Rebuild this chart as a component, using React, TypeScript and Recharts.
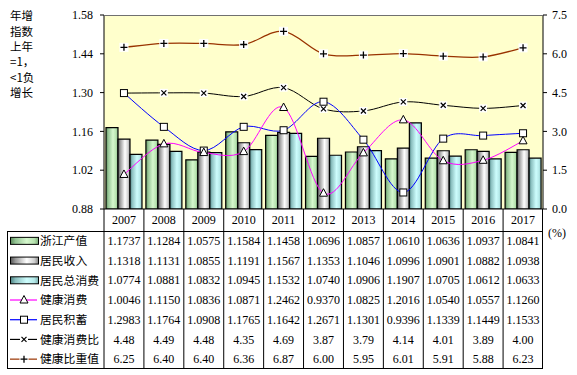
import { ComposedChart, Bar, Line, XAxis, YAxis, CartesianGrid } from "recharts";

const years = ["2007", "2008", "2009", "2010", "2011", "2012", "2013", "2014", "2015", "2016", "2017"];
const zjOutput = [1.1737, 1.1284, 1.0575, 1.1584, 1.1458, 1.0696, 1.0857, 1.061, 1.0636, 1.0937, 1.0841];
const income = [1.1318, 1.1131, 1.0855, 1.1191, 1.1567, 1.1353, 1.1046, 1.0996, 1.0901, 1.0882, 1.0938];
const totalConsume = [1.0774, 1.0881, 1.0832, 1.0945, 1.1532, 1.074, 1.0906, 1.1907, 1.0705, 1.0612, 1.0633];
const healthConsume = [1.0046, 1.115, 1.0836, 1.0871, 1.2462, 0.937, 1.0825, 1.2016, 1.054, 1.0557, 1.126];
const savings = [1.2983, 1.1764, 1.0908, 1.1765, 1.1642, 1.2671, 1.1301, 0.9396, 1.1339, 1.1449, 1.1533];
const healthRatio = [4.48, 4.49, 4.48, 4.35, 4.69, 3.87, 3.79, 4.14, 4.01, 3.89, 4.0];
const healthWeight = [6.25, 6.4, 6.4, 6.36, 6.87, 6.0, 5.95, 6.01, 5.91, 5.88, 6.23];

const leftTicks = [0.88, 1.02, 1.16, 1.3, 1.44, 1.58];
const rightTicks = [0, 1.5, 3, 4.5, 6, 7.5];
const titleLines = ["年增", "指数", "上年", "=1，", "<1负", "增长"];

const data = years.map((year, i) => ({
  year,
  zj: zjOutput[i],
  inc: income[i],
  cons: totalConsume[i],
  hc: healthConsume[i],
  sav: savings[i],
  ratio: healthRatio[i],
  weight: healthWeight[i],
}));

type RowKind = "green" | "grey" | "cyan" | "tri" | "sq" | "x" | "plus";
const rows: { name: string; values: number[]; digits: number; kind: RowKind; color: string }[] = [
  { name: "浙江产值", values: zjOutput, digits: 4, kind: "green", color: "#000" },
  { name: "居民收入", values: income, digits: 4, kind: "grey", color: "#000" },
  { name: "居民总消费", values: totalConsume, digits: 4, kind: "cyan", color: "#000" },
  { name: "健康消费", values: healthConsume, digits: 4, kind: "tri", color: "#ff00ff" },
  { name: "居民积蓄", values: savings, digits: 4, kind: "sq", color: "#0000ff" },
  { name: "健康消费比", values: healthRatio, digits: 2, kind: "x", color: "#000" },
  { name: "健康比重值", values: healthWeight, digits: 2, kind: "plus", color: "#993300" },
];

const W = 577;
const H = 375;
const PLOT_L = 104;
const PLOT_R = 543;
const PLOT_T = 15;
const PLOT_B = 209;
const TABLE_T = 231;
const TABLE_B = 369;
const TABLE_L = 7;
const COL_W = (PLOT_R - PLOT_L) / years.length;
const ROW_H = (TABLE_B - TABLE_T) / rows.length;

const SERIF = "'Liberation Serif', 'Times New Roman', serif";
const CJK = "'Noto Sans CJK SC', sans-serif";

// excel-like smoothing (catmull-rom as cubic bezier)
const smooth = (context: any) => {
  let pts: [number, number][] = [];
  return {
    areaStart() {},
    areaEnd() {},
    lineStart() {
      pts = [];
    },
    point(x: number, y: number) {
      pts.push([+x, +y]);
    },
    lineEnd() {
      const n = pts.length;
      if (!n) return;
      context.moveTo(pts[0][0], pts[0][1]);
      for (let i = 0; i < n - 1; i++) {
        const p0 = pts[i > 0 ? i - 1 : i];
        const p1 = pts[i];
        const p2 = pts[i + 1];
        const p3 = pts[i + 2 < n ? i + 2 : i + 1];
        context.bezierCurveTo(
          p1[0] + (p2[0] - p0[0]) / 6,
          p1[1] + (p2[1] - p0[1]) / 6,
          p2[0] - (p3[0] - p1[0]) / 6,
          p2[1] - (p3[1] - p1[1]) / 6,
          p2[0],
          p2[1]
        );
      }
    },
  };
};

const Marker = ({ kind, cx, cy }: { kind: RowKind; cx: number; cy: number }) => {
  if (kind === "tri")
    return (
      <polygon
        points={`${cx},${cy - 4.5} ${cx - 4},${cy + 3} ${cx + 4},${cy + 3}`}
        fill="#fff"
        stroke="#000"
        strokeWidth={1}
      />
    );
  if (kind === "sq")
    return <rect x={cx - 3.5} y={cy - 3.5} width={7} height={7} fill="#fff" stroke="#000" strokeWidth={1} />;
  if (kind === "x")
    return (
      <g>
        <rect x={cx - 4} y={cy - 4} width={8} height={8} fill="#fff" />
        <path d={`M${cx - 2.5},${cy - 2.5}L${cx + 2.5},${cy + 2.5}M${cx + 2.5},${cy - 2.5}L${cx - 2.5},${cy + 2.5}`} stroke="#000" strokeWidth={1.2} />
      </g>
    );
  return (
    <g>
      <rect x={cx - 4.5} y={cy - 4.5} width={9} height={9} fill="#fff" />
      <path d={`M${cx - 3.5},${cy}L${cx + 3.5},${cy}M${cx},${cy - 3.5}L${cx},${cy + 3.5}`} stroke="#000" strokeWidth={1.3} />
    </g>
  );
};

const dotFor = (kind: RowKind) => (p: any) =>
  <Marker key={`${kind}-${p.index}`} kind={kind} cx={p.cx} cy={p.cy} />;

const Gradients = ({ prefix }: { prefix: string }) => (
  <defs>
    <linearGradient id={`${prefix}green`} x1="0" y1="0" x2="1" y2="0">
      <stop offset="0" stopColor="#5a8a5a" />
      <stop offset="0.18" stopColor="#94c494" />
      <stop offset="0.58" stopColor="#d6f8ce" />
      <stop offset="0.85" stopColor="#b6e2ae" />
      <stop offset="1" stopColor="#7aaa7a" />
    </linearGradient>
    <linearGradient id={`${prefix}grey`} x1="0" y1="0" x2="1" y2="0">
      <stop offset="0" stopColor="#555" />
      <stop offset="0.18" stopColor="#9a9a9a" />
      <stop offset="0.58" stopColor="#fff" />
      <stop offset="0.85" stopColor="#cfcfcf" />
      <stop offset="1" stopColor="#858585" />
    </linearGradient>
    <linearGradient id={`${prefix}cyan`} x1="0" y1="0" x2="1" y2="0">
      <stop offset="0" stopColor="#4c8282" />
      <stop offset="0.18" stopColor="#8cc0c0" />
      <stop offset="0.58" stopColor="#cdfdfd" />
      <stop offset="0.85" stopColor="#b4e8e8" />
      <stop offset="1" stopColor="#7aaeae" />
    </linearGradient>
  </defs>
);

const TableOverlay = () => (
  <svg width={W} height={H} style={{ position: "absolute", left: 0, top: 0, pointerEvents: "none" }}>
    <Gradients prefix="lg-" />
    {/* plot frame top */}
    <line x1={PLOT_L} x2={PLOT_R} y1={PLOT_T + 0.5} y2={PLOT_T + 0.5} stroke="#707070" />
    {/* table grid */}
    {years.map((_, i) => (
      <line key={i} x1={PLOT_L + i * COL_W} x2={PLOT_L + i * COL_W} y1={PLOT_B} y2={TABLE_B} stroke="#000" />
    ))}
    <line x1={PLOT_R - 0.5} x2={PLOT_R - 0.5} y1={PLOT_B} y2={TABLE_B} stroke="#000" />
    <line x1={TABLE_L} x2={PLOT_R} y1={TABLE_T + 0.5} y2={TABLE_T + 0.5} stroke="#000" />
    <line x1={TABLE_L} x2={PLOT_R} y1={TABLE_B - 0.5} y2={TABLE_B - 0.5} stroke="#000" />
    <line x1={TABLE_L + 0.5} x2={TABLE_L + 0.5} y1={TABLE_T} y2={TABLE_B} stroke="#000" />
    {rows.map((row, r) => {
      const cy = TABLE_T + ROW_H * (r + 0.5);
      const isBar = row.kind === "green" || row.kind === "grey" || row.kind === "cyan";
      return (
        <g key={row.name}>
          {isBar ? (
            <rect x={10.5} y={cy - 3.5} width={28} height={7} fill={`url(#lg-${row.kind})`} stroke="#000" />
          ) : (
            <g>
              <line x1={10} x2={37} y1={cy} y2={cy} stroke={row.color} strokeWidth={1.2} />
              <Marker kind={row.kind} cx={24} cy={cy} />
            </g>
          )}
          <text x={40} y={cy} dy="0.36em" fontSize={11.8} fontFamily={CJK} fill="#000">
            {row.name}
          </text>
          {row.values.map((v, i) => (
            <text
              key={i}
              x={PLOT_L + COL_W * (i + 0.5)}
              y={cy}
              dy="0.35em"
              textAnchor="middle"
              fontSize={12}
              fontFamily={SERIF}
              fill="#000"
            >
              {v.toFixed(row.digits)}
            </text>
          ))}
        </g>
      );
    })}
    <text x={548} y={233} dy="0.35em" fontSize={12} fontFamily={SERIF} fill="#000">
      (%)
    </text>
    {titleLines.map((t, i) => (
      <text key={t} x={10} y={16 + i * 15.4} dy="0.36em" fontSize={11.5} fontFamily={CJK} fill="#000">
        {t}
      </text>
    ))}
  </svg>
);

export default function App() {
  return (
    <div style={{ position: "relative", width: W, height: H, background: "#fff" }}>
      <style>{"body{margin:0}"}</style>
      <ComposedChart
        width={W}
        height={H}
        data={data}
        margin={{ top: PLOT_T, right: 0, left: 0, bottom: H - PLOT_B - 22 }}
        barCategoryGap="5%"
        barGap={0}
      >
        <Gradients prefix="ch-" />
        <CartesianGrid fill="#ffffcc" horizontal={false} vertical={false} />
        <XAxis
          dataKey="year"
          height={22}
          tickSize={0}
          tickMargin={6}
          tickLine={false}
          axisLine={{ stroke: "#000" }}
          tick={{ fontSize: 12, fontFamily: SERIF, fill: "#000" }}
          interval={0}
        />
        <YAxis
          yAxisId="left"
          width={PLOT_L}
          domain={[0.88, 1.58]}
          ticks={leftTicks}
          tickFormatter={(v: number) => v.toFixed(2)}
          tickSize={4}
          tickMargin={7}
          axisLine={{ stroke: "#000" }}
          tickLine={{ stroke: "#000" }}
          tick={{ fontSize: 12, fontFamily: SERIF, fill: "#000" }}
          allowDataOverflow
        />
        <YAxis
          yAxisId="right"
          orientation="right"
          width={W - PLOT_R}
          domain={[0, 7.5]}
          ticks={rightTicks}
          tickFormatter={(v: number) => v.toFixed(1)}
          tickSize={4}
          tickMargin={5}
          axisLine={{ stroke: "#000" }}
          tickLine={{ stroke: "#000" }}
          tick={{ fontSize: 12, fontFamily: SERIF, fill: "#000" }}
        />
        <Bar yAxisId="left" dataKey="zj" fill="url(#ch-green)" stroke="#000" strokeWidth={1.2} isAnimationActive={false} />
        <Bar yAxisId="left" dataKey="inc" fill="url(#ch-grey)" stroke="#000" strokeWidth={1.2} isAnimationActive={false} />
        <Bar yAxisId="left" dataKey="cons" fill="url(#ch-cyan)" stroke="#000" strokeWidth={1.2} isAnimationActive={false} />
        <Line yAxisId="right" dataKey="weight" type={smooth as any} stroke="#993300" strokeWidth={1.3} dot={dotFor("plus")} activeDot={false} isAnimationActive={false} />
        <Line yAxisId="right" dataKey="ratio" type={smooth as any} stroke="#000" strokeWidth={1} dot={dotFor("x")} activeDot={false} isAnimationActive={false} />
        <Line yAxisId="left" dataKey="sav" type={smooth as any} stroke="#0000ff" strokeWidth={1} dot={dotFor("sq")} activeDot={false} isAnimationActive={false} />
        <Line yAxisId="left" dataKey="hc" type={smooth as any} stroke="#ff00ff" strokeWidth={1} dot={dotFor("tri")} activeDot={false} isAnimationActive={false} />
      </ComposedChart>
      <TableOverlay />
    </div>
  );
}
